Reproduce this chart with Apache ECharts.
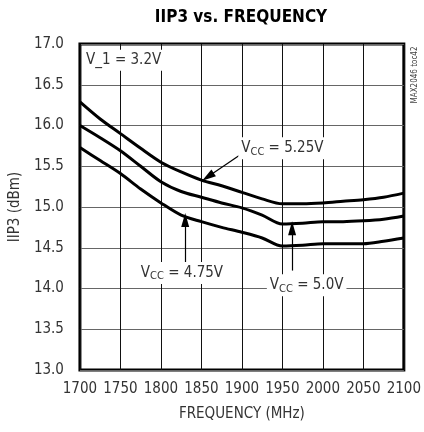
<!DOCTYPE html>
<html>
<head>
<meta charset="utf-8">
<style>
  html, body { margin: 0; padding: 0; background: #fff; }
  #chart { width: 424px; height: 432px; }
</style>
<script src="https://cdn.jsdelivr.net/npm/echarts@6/dist/echarts.min.js"></script>
</head>
<body>
<div id="chart"></div>
<script>
// Frequency points (MHz)
const freq = [1700, 1725, 1750, 1775, 1800, 1825, 1850, 1875, 1900, 1925, 1950, 1975, 2000, 2025, 2050, 2075, 2100];

// IIP3 (dBm) for each supply voltage
const iip3Vcc525 = [16.29, 16.08, 15.90, 15.72, 15.55, 15.43, 15.33, 15.26, 15.18, 15.10, 15.04, 15.04, 15.05, 15.07, 15.09, 15.12, 15.17];
const iip3Vcc500 = [16.00, 15.85, 15.69, 15.50, 15.31, 15.19, 15.12, 15.05, 14.99, 14.90, 14.79, 14.80, 14.82, 14.82, 14.83, 14.85, 14.89];
const iip3Vcc475 = [15.73, 15.57, 15.41, 15.22, 15.05, 14.90, 14.82, 14.75, 14.69, 14.62, 14.52, 14.53, 14.55, 14.55, 14.55, 14.58, 14.62];

// Axis ticks
const xTicks = [1700, 1750, 1800, 1850, 1900, 1950, 2000, 2050, 2100];
const yTicks = [13.0, 13.5, 14.0, 14.5, 15.0, 15.5, 16.0, 16.5, 17.0];

const FONT = '"DejaVu Sans Condensed", "Liberation Sans Narrow", "Arial Narrow", sans-serif';

function pairs(values) {
  return freq.map((f, i) => [f, values[i]]);
}

// Callout label with subscript CC
function vccLabel(value) {
  return '{v|V}{s|CC}{v| = ' + value + '}';
}
const labelRich = {
  v: { fontFamily: FONT, fontSize: 15, color: '#333', lineHeight: 18 },
  s: { fontFamily: FONT, fontSize: 11, color: '#333', lineHeight: 18, padding: [7, 0, 0, 0] }
};

function callout(coord, text) {
  return {
    coord: coord,
    symbol: 'circle',
    symbolSize: 1,
    itemStyle: { color: 'rgba(0,0,0,0)' },
    label: {
      show: true,
      position: 'inside',
      formatter: text,
      rich: labelRich,
      backgroundColor: '#fff',
      padding: [2, 3, 2, 3],
      fontFamily: FONT,
      fontSize: 15,
      color: '#333'
    }
  };
}

// Pointer arrows: plain line with a slim filled head at the end
function arrow(from, to) {
  return {
    silent: true,
    symbol: ['none', 'triangle'],
    symbolSize: [8, 14],
    lineStyle: { color: '#000', width: 1.2, type: 'solid' },
    label: { show: false },
    data: [[{ coord: from }, { coord: to }]]
  };
}

const chart = echarts.init(document.getElementById('chart'), null, { renderer: 'canvas' });

chart.setOption({
  animation: false,
  backgroundColor: '#fff',
  grid: {
    left: 79, right: 18, top: 44, bottom: 62,
    show: true, borderColor: '#000', borderWidth: 3, backgroundColor: 'transparent'
  },
  graphic: [
    {
      type: 'text', x: 241, y: 18, z: 10,
      style: {
        text: 'IIP3 vs. FREQUENCY', fill: '#000',
        font: 'bold 17px ' + FONT, textAlign: 'center', textVerticalAlign: 'middle'
      }
    },
    {
      type: 'text', x: 415, y: 75, rotation: Math.PI / 2, z: 10,
      style: {
        text: 'MAX2046 toc42', fill: '#444',
        font: '8px ' + FONT, textAlign: 'center', textVerticalAlign: 'middle'
      }
    }
  ],
  xAxis: {
    type: 'value',
    min: xTicks[0], max: xTicks[xTicks.length - 1], interval: 50,
    name: 'FREQUENCY (MHz)', nameLocation: 'middle', nameGap: 37,
    nameTextStyle: { fontFamily: FONT, fontSize: 15, color: '#333' },
    axisLine: { show: false },
    axisTick: { show: false },
    axisLabel: {
      margin: 12, fontFamily: FONT, fontSize: 15, color: '#333',
      formatter: v => String(v)
    },
    splitLine: { show: true, lineStyle: { color: '#111', width: 1 } }
  },
  yAxis: {
    type: 'value',
    min: yTicks[0], max: yTicks[yTicks.length - 1], interval: 0.5,
    name: 'IIP3 (dBm)', nameLocation: 'middle', nameGap: 50, nameRotate: 90,
    nameTextStyle: { fontFamily: FONT, fontSize: 15, color: '#333' },
    axisLine: { show: false },
    axisTick: { show: false },
    axisLabel: {
      margin: 16, fontFamily: FONT, fontSize: 15, color: '#333',
      formatter: v => v.toFixed(1)
    },
    splitLine: { show: true, lineStyle: { color: '#666', width: 1 } }
  },
  series: [
    {
      name: 'VCC = 5.25V', type: 'line', data: pairs(iip3Vcc525),
      smooth: 0.3, symbol: 'none', lineStyle: { color: '#000', width: 3 }, z: 3,
      markLine: arrow([1898, 15.64], [1858, 15.37]),
      markPoint: {
        silent: true,
        data: [callout([1950, 15.72], vccLabel('5.25V'))]
      }
    },
    {
      name: 'VCC = 5.0V', type: 'line', data: pairs(iip3Vcc500),
      smooth: 0.3, symbol: 'none', lineStyle: { color: '#000', width: 3 }, z: 3,
      markLine: arrow([1962, 14.22], [1962, 14.74]),
      markPoint: {
        silent: true,
        data: [callout([1980, 14.04], vccLabel('5.0V'))]
      }
    },
    {
      name: 'VCC = 4.75V', type: 'line', data: pairs(iip3Vcc475),
      smooth: 0.3, symbol: 'none', lineStyle: { color: '#000', width: 3 }, z: 3,
      markLine: arrow([1830, 14.32], [1830, 14.84]),
      markPoint: {
        silent: true,
        data: [
          callout([1826, 14.19], vccLabel('4.75V')),
          {
            coord: [1754, 16.80],
            symbol: 'circle', symbolSize: 1, itemStyle: { color: 'rgba(0,0,0,0)' },
            label: {
              show: true, position: 'inside', formatter: 'V_1 = 3.2V',
              backgroundColor: '#fff', padding: [3, 3, 3, 3],
              fontFamily: FONT, fontSize: 15, color: '#333'
            }
          }
        ]
      }
    }
  ]
});
</script>
</body>
</html>
